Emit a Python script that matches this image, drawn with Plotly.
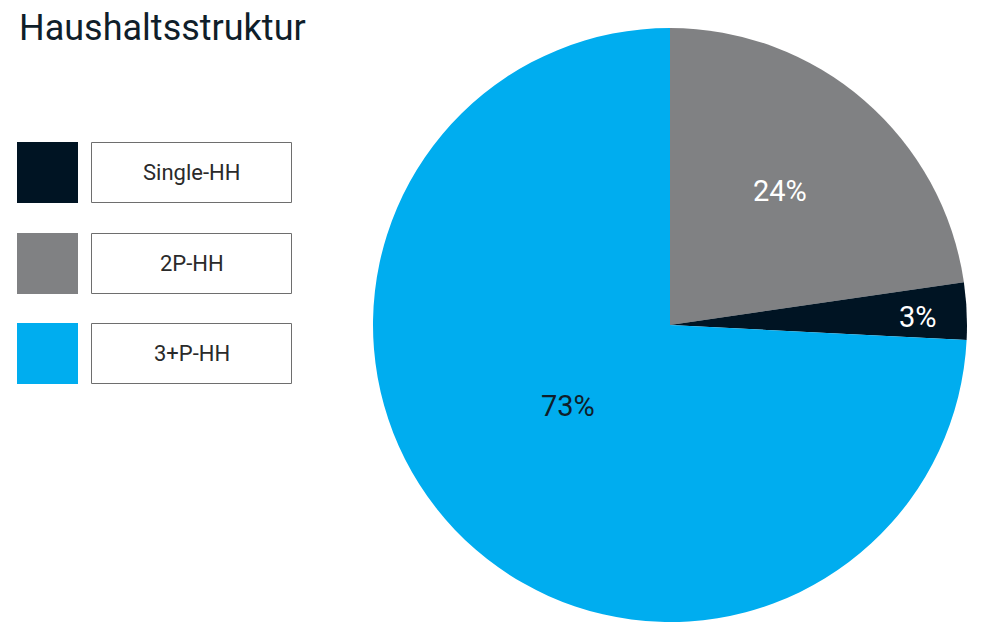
import math
import plotly.graph_objects as go

# ---- data ----
categories = ["Single-HH", "2P-HH", "3+P-HH"]
shares = [3.1, 22.7, 74.2]          # slice sizes as drawn
share_labels = ["3%", "24%", "73%"]  # printed labels
colors = ["#001423", "#808183", "#00ADEF"]
label_colors = ["#ffffff", "#ffffff", "#0f1e2a"]
pie_order = [1, 0, 2]                # clockwise from 12 o'clock

# ---- layout helpers (page has an 8px body margin) ----
OFF = 8
W, H = 991 - OFF, 624 - OFF

def px(x):
    return (x - OFF) / W

def py(y):
    return 1 - (y - OFF) / H

fig = go.Figure()

cx, cy, R = 670, 325, 297
fig.add_trace(go.Pie(
    labels=[categories[i] for i in pie_order],
    values=[shares[i] for i in pie_order],
    marker=dict(colors=[colors[i] for i in pie_order], line=dict(width=0)),
    sort=False,
    direction="clockwise",
    rotation=0,
    textinfo="none",
    domain=dict(x=[px(cx - R), px(cx + R)], y=[py(cy + R), py(cy - R)]),
    showlegend=False,
    hovertemplate="%{label}<extra></extra>",
))

shapes = []
annotations = []

# slice labels placed along each slice's mid-angle
label_radius = {0: 0.835, 1: 0.584, 2: 0.439}   # by category index
label_shift = {0: 0.9, 1: -1.5, 2: 5.1}         # degrees
total = sum(shares)
cum = 0.0
for i in pie_order:
    mid = (cum + shares[i] / 2) / total * 360 + label_shift[i]
    cum += shares[i]
    r = label_radius[i] * R
    lx = cx + r * math.sin(math.radians(mid))
    ly = cy - r * math.cos(math.radians(mid))
    annotations.append(dict(xref="paper", yref="paper", x=px(lx), y=py(ly),
                            text=share_labels[i], showarrow=False,
                            xanchor="center", yanchor="middle",
                            font=dict(family="Roboto", size=29, color=label_colors[i])))

# custom legend
box_tops = [142, 233, 323]
for i, cat in enumerate(categories):
    top = box_tops[i]
    bot = top + 61
    shapes.append(dict(type="rect", xref="paper", yref="paper",
                       x0=px(17), x1=px(78), y0=py(bot), y1=py(top),
                       fillcolor=colors[i], line=dict(width=0)))
    shapes.append(dict(type="rect", xref="paper", yref="paper",
                       x0=px(91.5), x1=px(291.5), y0=py(bot - 0.5), y1=py(top + 0.5),
                       fillcolor="white", line=dict(color="#6e6e6e", width=1)))
    annotations.append(dict(xref="paper", yref="paper", x=px(191.5), y=py((top + bot) / 2),
                            text=cat, showarrow=False, xanchor="center", yanchor="middle",
                            font=dict(family="Roboto", size=22, color="#2a2a2a")))

annotations.append(dict(xref="paper", yref="paper", x=px(17), y=py(28.5),
                        text="Haushaltsstruktur", showarrow=False,
                        xanchor="left", yanchor="middle",
                        font=dict(family="Roboto", size=36, color="#0f1e2a")))

fig.update_layout(
    width=W, height=H,
    margin=dict(l=0, r=0, t=0, b=0),
    paper_bgcolor="white",
    plot_bgcolor="white",
    shapes=shapes,
    annotations=annotations,
)

fig.write_html("out.html")
